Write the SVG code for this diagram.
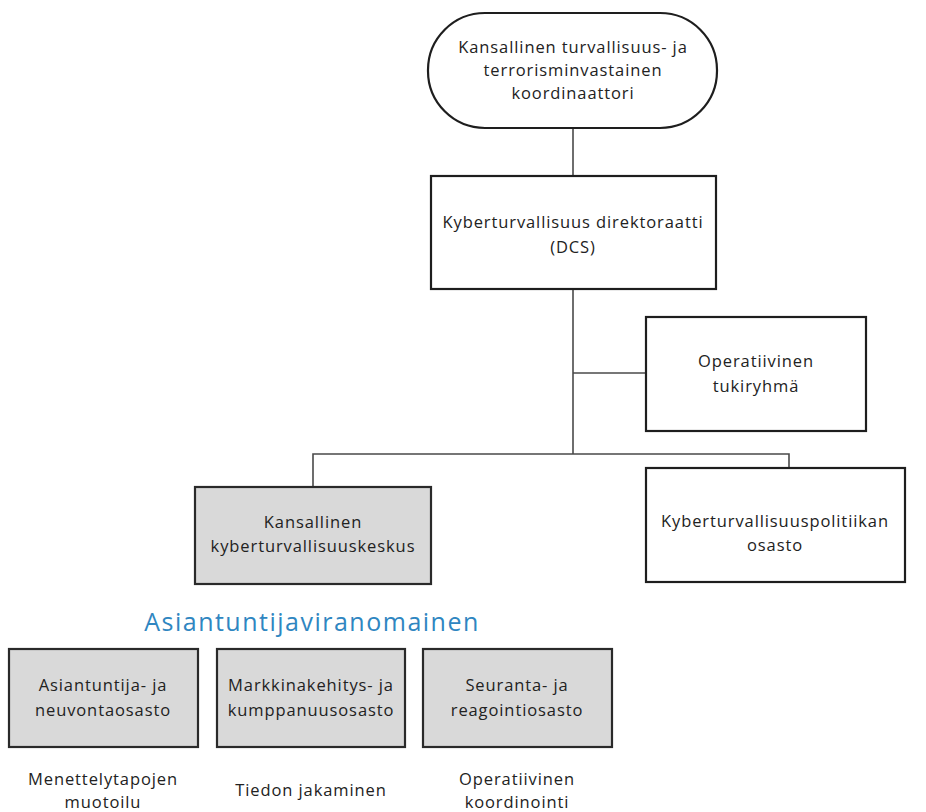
<svg xmlns="http://www.w3.org/2000/svg" width="926" height="812" viewBox="0 0 926 812">
<style>
.box{fill:#ffffff;stroke:#1e1e1e;stroke-width:2.2}
.gbox{fill:#d9d9d9;stroke:#2a2a2a;stroke-width:2.2}
.conn{fill:none;stroke:#4a4a4a;stroke-width:1.6}
text{font-family:"Open Sans","Liberation Sans",sans-serif;font-size:16.5px;letter-spacing:0.9px;fill:#222;text-anchor:middle}
.title{font-size:25px;fill:#2f86c1;letter-spacing:1.5px}
</style>
<rect width="926" height="812" fill="#ffffff"/>
<g id="connectors">
<path class="conn" d="M573 128 V176"/>
<path class="conn" d="M573 289 V454"/>
<path class="conn" d="M573 373 H646"/>
<path class="conn" d="M313 487 V454 H789 V468"/>
</g>
<g id="coordinator">
<rect class="box" x="428" y="13" width="289" height="115" rx="57" ry="57"/>
<text x="573" y="53">Kansallinen turvallisuus- ja</text>
<text x="573" y="76">terrorisminvastainen</text>
<text x="573" y="99">koordinaattori</text>
</g>
<g id="dcs">
<rect class="box" x="431" y="176" width="285" height="113"/>
<text x="573" y="228">Kyberturvallisuus direktoraatti</text>
<text x="573" y="253">(DCS)</text>
</g>
<g id="tukiryhma">
<rect class="box" x="646" y="317" width="220" height="114"/>
<text x="756" y="367">Operatiivinen</text>
<text x="756" y="392">tukiryhmä</text>
</g>
<g id="keskus">
<rect class="gbox" x="195" y="487" width="236" height="97"/>
<text x="313" y="528">Kansallinen</text>
<text x="313" y="552">kyberturvallisuuskeskus</text>
</g>
<g id="politiikka">
<rect class="box" x="646" y="468" width="259" height="114"/>
<text x="775" y="527">Kyberturvallisuuspolitiikan</text>
<text x="775" y="551">osasto</text>
</g>
<g id="title">
<text class="title" x="312" y="631">Asiantuntijaviranomainen</text>
</g>
<g id="neuvonta">
<rect class="gbox" x="9" y="649" width="189" height="98"/>
<text x="103" y="691">Asiantuntija- ja</text>
<text x="103" y="716">neuvontaosasto</text>
<text x="103" y="785">Menettelytapojen</text>
<text x="103" y="808">muotoilu</text>
</g>
<g id="markkina">
<rect class="gbox" x="217" y="649" width="188" height="98"/>
<text x="311" y="691">Markkinakehitys- ja</text>
<text x="311" y="716">kumppanuusosasto</text>
<text x="311" y="796">Tiedon jakaminen</text>
</g>
<g id="seuranta">
<rect class="gbox" x="423" y="649" width="189" height="98"/>
<text x="517" y="691">Seuranta- ja</text>
<text x="517" y="716">reagointiosasto</text>
<text x="517" y="785">Operatiivinen</text>
<text x="517" y="808">koordinointi</text>
</g>
</svg>
